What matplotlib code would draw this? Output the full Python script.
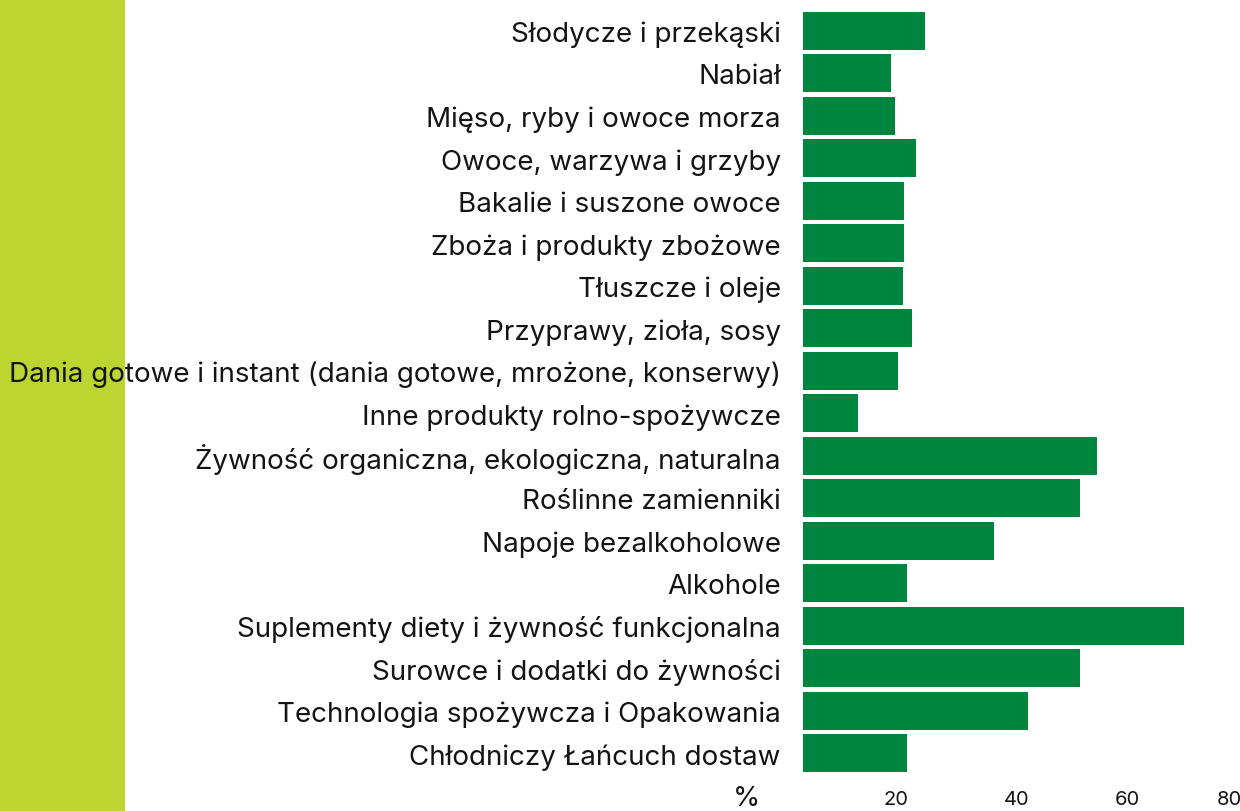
import matplotlib.pyplot as plt
from matplotlib.patches import Rectangle

categories = [
    "Słodycze i przekąski",
    "Nabiał",
    "Mięso, ryby i owoce morza",
    "Owoce, warzywa i grzyby",
    "Bakalie i suszone owoce",
    "Zboża i produkty zbożowe",
    "Tłuszcze i oleje",
    "Przyprawy, zioła, sosy",
    "Dania gotowe i instant (dania gotowe, mrożone, konserwy)",
    "Inne produkty rolno-spożywcze",
    "Żywność organiczna, ekologiczna, naturalna",
    "Roślinne zamienniki",
    "Napoje bezalkoholowe",
    "Alkohole",
    "Suplementy diety i żywność funkcjonalna",
    "Surowce i dodatki do żywności",
    "Technologia spożywcza i Opakowania",
    "Chłodniczy Łańcuch dostaw",
]
values = [22.3, 16.1, 16.8, 20.7, 18.4, 18.5, 18.3, 19.9, 17.4, 10.1,
          53.9, 50.8, 34.9, 19.1, 69.8, 50.8, 41.2, 19.1]
tick_labels = ["20", "40", "60", "80"]

GREEN = "#00853e"
LIME = "#bcd531"
TEXT = "#141414"
FONT = ["Inter", "DejaVu Sans"]

fig = plt.figure(figsize=(12.4, 8.12), dpi=100)
fig.patch.set_facecolor("white")

# lime stripe on the left, behind the labels
fig.patches.append(Rectangle((0, 0), 125 / 1240, 1, transform=fig.transFigure,
                             facecolor=LIME, edgecolor="none", zorder=-1))

ax = fig.add_axes([803 / 1240, 36.5 / 812, 437 / 1240, 764.8 / 812])
ax.set_facecolor("none")

ypos = list(range(len(categories)))
ax.barh(ypos, values, height=0.894, color=GREEN, edgecolor="none")

ax.set_xlim(0, 80)
ax.set_ylim(len(categories) - 0.5, -0.5)

ax.set_yticks(ypos)
ax.set_yticklabels(categories, fontsize=20, color=TEXT, family=FONT)
# tick labels sit where the original drew them
ax.set_xticks([17.0, 39.2, 59.3, 78.0])
ax.set_xticklabels(tick_labels, fontsize=14.5, color=TEXT, family=FONT)
ax.tick_params(axis="y", length=0, pad=16)
ax.tick_params(axis="x", length=0, pad=11)
for s in ax.spines.values():
    s.set_visible(False)

fig.text(747 / 1240, 1 - 799 / 812, "%", fontsize=20, color=TEXT, family=FONT,
         ha="center", va="center")

fig.savefig("out.png", dpi=100)
